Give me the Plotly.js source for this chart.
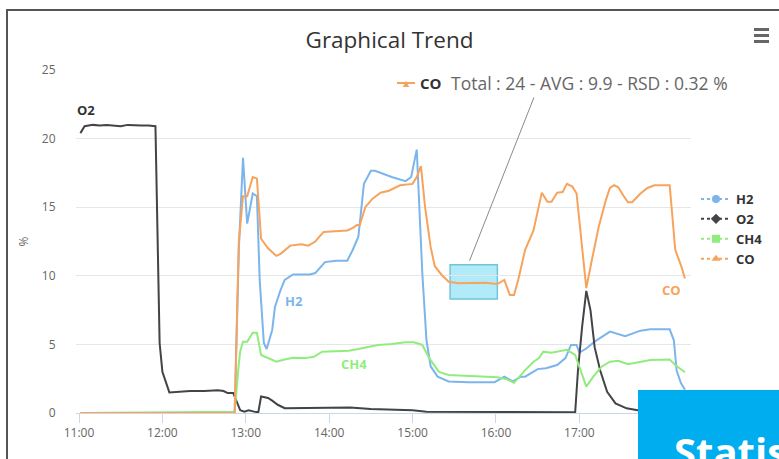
<!DOCTYPE html>
<html>
<head>
<meta charset="utf-8">
<script src="https://cdn.plot.ly/plotly-3.0.1.min.js"></script>
<style>
  html, body { margin: 0; padding: 0; background: #fff; }
  #chart { width: 779px; height: 459px; }
</style>
</head>
<body>
<div id="chart"></div>
<script>
// ---- data ----
const day = "2024-01-01 ";
const seriesNames = ["H2", "O2", "CH4", "CO"];
const seriesColors = ["#7cb5ec", "#434348", "#90ed7d", "#f7a35c"];
const legendSymbols = ["circle", "diamond", "square", "triangle-up"];
const xTickTimes = ["11:00","12:00","13:00","14:00","15:00","16:00","17:00"];
const xTickLabels = ["11:00","12:00","13:00","14:00","15:00","16:00","17:00"];

const o2Times = ["11:01","11:04","11:10","11:15","11:20","11:25","11:30","11:35","11:40","11:45","11:50","11:55","11:58","12:00","12:05","12:10","12:20","12:30","12:40","12:44","12:47","12:51","12:53","12:56","12:59","13:02","13:06","13:09","13:11","13:16","13:19","13:23","13:28","13:40","14:00","14:15","14:30","14:45","15:00","15:10","15:30","16:00","16:30","16:57","16:59","17:02","17:05","17:08","17:11","17:15","17:20","17:26","17:34","17:42","17:55","18:16"];
const o2Values = [20.4,20.9,21.0,20.95,21.0,20.95,20.9,21.0,20.95,20.95,20.95,20.9,5.1,3.0,1.5,1.55,1.6,1.6,1.65,1.6,1.45,1.45,0.9,0.2,0.1,0.2,0.1,0.05,1.2,1.1,0.9,0.6,0.35,0.35,0.35,0.4,0.3,0.25,0.2,0.1,0.1,0.05,0.05,0.05,3.1,6.3,8.9,7.5,4.8,3.1,1.55,0.7,0.34,0.2,0.1,0.05];

const h2Times = ["11:01","12:52","12:55","12:58","13:01","13:05","13:08","13:10","13:13","13:15","13:19","13:21","13:25","13:28","13:34","13:46","13:50","13:57","14:05","14:13","14:17","14:21","14:25","14:30","14:33","14:45","14:55","14:59","15:03","15:07","15:10","15:13","15:18","15:26","15:40","15:59","16:06","16:12","16:18","16:21","16:30","16:36","16:44","16:50","16:54","16:58","17:00","17:05","17:11","17:16","17:22","17:33","17:44","17:51","18:05","18:08","18:10","18:13","18:16"];
const h2Values = [0,0,12.0,18.6,13.8,16.0,15.8,9.7,5.1,4.66,6.05,7.75,8.96,9.7,10.1,10.1,10.2,11.0,11.1,11.1,11.9,12.85,16.7,17.66,17.66,17.2,16.9,17.2,19.2,10.2,5.3,3.4,2.65,2.3,2.25,2.25,2.65,2.3,2.65,2.65,3.2,3.26,3.5,4.0,4.96,4.96,4.4,4.7,5.2,5.56,5.93,5.6,6.0,6.1,6.1,5.3,3.1,2.2,1.7];

const ch4Times = ["11:01","12:52","12:55","12:56","12:58","13:01","13:05","13:08","13:11","13:16","13:22","13:28","13:34","13:43","13:49","13:55","14:04","14:14","14:21","14:35","14:45","14:55","15:01","15:07","15:12","15:16","15:19","15:26","15:57","16:01","16:08","16:13","16:21","16:27","16:31","16:34","16:40","16:49","16:51","16:57","17:05","17:10","17:16","17:22","17:28","17:35","17:44","17:51","18:05","18:09","18:16"];
const ch4Values = [0,0.1,3.6,4.5,5.2,5.2,5.85,5.85,4.23,4.0,3.74,3.9,4.03,4.0,4.1,4.47,4.5,4.54,4.66,4.96,5.03,5.15,5.15,4.96,4.0,3.4,3.0,2.77,2.65,2.6,2.45,2.2,3.13,3.74,4.0,4.47,4.4,4.6,4.6,4.23,1.92,2.65,3.37,3.74,3.8,3.55,3.7,3.86,3.9,3.5,2.97];

const coTimes = ["11:01","12:52","12:55","12:58","13:01","13:05","13:08","13:11","13:16","13:22","13:25","13:32","13:40","13:45","13:50","13:56","14:04","14:13","14:17","14:20","14:22","14:26","14:31","14:37","14:43","14:51","15:00","15:03","15:06","15:09","15:13","15:16","15:21","15:26","15:33","15:52","16:01","16:06","16:10","16:13","16:16","16:21","16:27","16:33","16:37","16:40","16:44","16:48","16:51","16:55","16:58","17:01","17:05","17:09","17:14","17:19","17:22","17:25","17:28","17:32","17:35","17:38","17:44","17:49","17:54","18:05","18:09","18:13","18:16"];
const coValues = [0,0,12.5,15.8,15.8,17.2,17.1,12.7,12.0,11.45,11.6,12.2,12.3,12.2,12.5,13.2,13.25,13.3,13.5,13.7,13.7,15.0,15.6,16.06,16.2,16.6,16.7,17.2,18.0,15.0,12.1,10.7,10.06,9.57,9.45,9.5,9.4,9.7,8.6,8.6,9.7,11.9,13.3,16.06,15.4,15.4,16.06,16.1,16.7,16.5,16.0,12.85,9.1,11.15,13.6,15.5,16.4,16.6,16.45,15.8,15.36,15.36,16.0,16.4,16.6,16.6,11.9,10.8,9.8];

const annotationText = "Total : 24 - AVG : 9.9 - RSD : 0.32 %";

// ---- helpers ----
const toDate = arr => arr.map(t => day + t);
const seriesTimes = [h2Times, o2Times, ch4Times, coTimes];
const seriesValues = [h2Values, o2Values, ch4Values, coValues];

// pixel -> paper helpers (plot area: x 76..691, y 70..413)
const L = 76, R = 691, T = 70, B = 413;
const px = x => (x - L) / (R - L);
const py = y => (B - y) / (B - T);

const traces = [];
seriesNames.forEach((name, i) => {
  traces.push({
    type: "scatter", mode: "lines", name: name,
    x: toDate(seriesTimes[i]), y: seriesValues[i],
    line: { color: seriesColors[i], width: 2 },
    legendgroup: name, showlegend: false, hoverinfo: "x+y+name"
  });
});
// legend entries (line + marker symbol, as in the reference legend)
seriesNames.forEach((name, i) => {
  traces.push({
    type: "scatter", mode: "lines+markers", name: name,
    x: [null], y: [null],
    line: { color: seriesColors[i], width: 2, dash: "dot" },
    marker: { color: seriesColors[i], symbol: legendSymbols[i], size: 8 },
    legendgroup: name, showlegend: true
  });
});

const font = "Open Sans, Lato, sans-serif";

const layout = {
  width: 779, height: 459,
  margin: { l: L, r: 779 - R, t: T, b: 459 - B, pad: 0, autoexpand: false },
  paper_bgcolor: "#ffffff", plot_bgcolor: "#ffffff",
  font: { family: font, color: "#666666", size: 12 },
  title: {
    text: "Graphical Trend",
    font: { family: font, size: 22.5, color: "#333333" },
    xref: "container", x: 0.5, xanchor: "center",
    yref: "container", y: 1 - 40 / 459, yanchor: "middle"
  },
  xaxis: {
    type: "date",
    range: [day + "10:57:50", day + "18:20:20"],
    tickmode: "array", tickvals: toDate(xTickTimes), ticktext: xTickLabels,
    showgrid: false, zeroline: false,
    showline: true, linecolor: "#ccd6eb", linewidth: 1,
    ticks: "outside", ticklen: 9, tickcolor: "#ccd6eb", tickwidth: 1,
    tickfont: { family: font, size: 12, color: "#666666" },
    fixedrange: true
  },
  yaxis: {
    range: [0, 25], dtick: 5, tick0: 0,
    showgrid: true, gridcolor: "#e6e6e6", gridwidth: 1,
    zeroline: false, showline: false,
    ticks: "outside", ticklen: 17, tickcolor: "rgba(0,0,0,0)",
    tickfont: { family: font, size: 12, color: "#666666" },
    title: { text: "%", standoff: 10, font: { family: font, size: 12, color: "#666666" } },
    fixedrange: true
  },
  showlegend: true,
  legend: {
    x: px(696), xanchor: "left", y: py(184), yanchor: "top",
    tracegroupgap: 0,
    bgcolor: "rgba(0,0,0,0)",
    font: { family: font, size: 13, color: "#333333", weight: "bold" },
    itemclick: false, itemdoubleclick: false
  },
  shapes: [
    // frame (top and left border)
    { type: "line", xref: "paper", yref: "paper", x0: px(6), x1: px(779), y0: py(10), y1: py(10), line: { color: "#555555", width: 2 } },
    { type: "line", xref: "paper", yref: "paper", x0: px(7), x1: px(7), y0: py(9), y1: py(470), line: { color: "#555555", width: 2 } },
    // menu icon
    { type: "line", xref: "paper", yref: "paper", x0: px(754), x1: px(769), y0: py(29.5), y1: py(29.5), line: { color: "#666666", width: 3 } },
    { type: "line", xref: "paper", yref: "paper", x0: px(754), x1: px(769), y0: py(35.5), y1: py(35.5), line: { color: "#666666", width: 3 } },
    { type: "line", xref: "paper", yref: "paper", x0: px(754), x1: px(769), y0: py(41.5), y1: py(41.5), line: { color: "#666666", width: 3 } },
    // highlighted region on CO
    { type: "rect", xref: "x", yref: "y", layer: "below",
      x0: day + "15:27", x1: day + "16:01", y0: 8.3, y1: 10.8,
      fillcolor: "#b1ebfa", line: { color: "#72c5d6", width: 1.5 } },
    // connector from label to region
    { type: "line", xref: "x", yref: "y",
      x0: day + "16:27:20", y0: 23.0, x1: day + "15:41", y1: 11.1,
      line: { color: "#8a8a8a", width: 1 } },
    // label legend symbol line
    { type: "line", xref: "paper", yref: "paper", x0: px(397), x1: px(415), y0: py(83), y1: py(83), line: { color: "#f7a35c", width: 2 } },
    // overlapping blue panel
    { type: "rect", xref: "paper", yref: "paper", layer: "above",
      x0: px(638), x1: px(790), y0: py(390), y1: py(470),
      fillcolor: "#00aeef", line: { width: 0 } }
  ],
  annotations: [
    // statistics label
    { xref: "paper", yref: "paper", x: px(406), y: py(83.5), text: "▲", showarrow: false,
      xanchor: "center", yanchor: "middle", font: { family: "DejaVu Sans", size: 8, color: "#f7a35c" } },
    { xref: "paper", yref: "paper", x: px(418), y: py(83), text: "<b>CO</b>", showarrow: false,
      xanchor: "left", yanchor: "middle", font: { family: font, size: 15, color: "#333333" } },
    { xref: "paper", yref: "paper", x: px(449), y: py(83), text: annotationText, showarrow: false,
      xanchor: "left", yanchor: "middle", font: { family: font, size: 17.5, color: "#666666" } },
    // series labels
    { xref: "x", yref: "y", x: day + "11:05", y: 22.1, text: "<b>O2</b>", showarrow: false,
      font: { family: font, size: 13, color: "#333333" } },
    { xref: "x", yref: "y", x: day + "13:35", y: 8.16, text: "<b>H2</b>", showarrow: false,
      font: { family: font, size: 13, color: "#7cb5ec" } },
    { xref: "x", yref: "y", x: day + "14:18", y: 3.6, text: "<b>CH4</b>", showarrow: false,
      font: { family: font, size: 13, color: "#90ed7d" } },
    { xref: "x", yref: "y", x: day + "18:06", y: 8.95, text: "<b>CO</b>", showarrow: false,
      font: { family: font, size: 13, color: "#f7a35c" } },
    // text on the overlapping panel
    { xref: "paper", yref: "paper", x: px(672), y: py(422), text: "<b>Statis</b>", showarrow: false,
      xanchor: "left", yanchor: "top", font: { family: font, size: 40, color: "#ffffff" } }
  ]
};

Plotly.newPlot("chart", traces, layout, { displayModeBar: false, staticPlot: false, responsive: false });
</script>
</body>
</html>
